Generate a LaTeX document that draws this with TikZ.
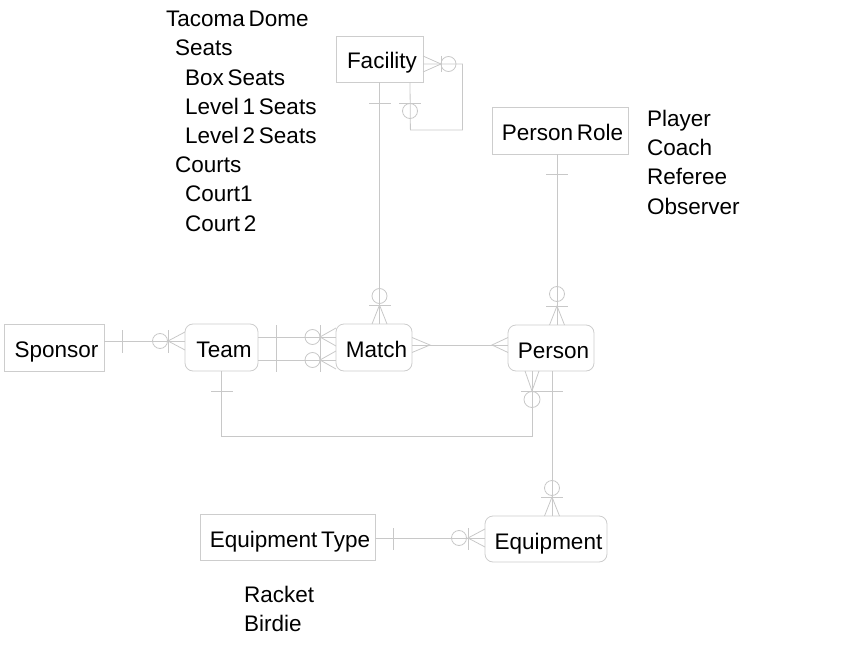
\documentclass[tikz,border=0pt]{standalone}
\usepackage{fontspec}
\setmainfont{Liberation Sans}[WordSpace=0.6]
\definecolor{lineg}{RGB}{200,200,200}
\definecolor{boxg}{RGB}{205,205,205}
\newcommand{\lbl}[1]{\hspace*{5pt}#1}
\tikzset{
  ent/.style={draw=boxg, line width=0.8pt, inner sep=0pt, text height=20pt, text depth=0pt,
    font=\fontsize{22.5}{27}\selectfont},
  rent/.style={ent, rounded corners=8pt},
  conn/.style={draw=lineg, line width=0.8pt},
  lst/.style={inner sep=0pt, anchor=base west, font=\fontsize{22.5}{27}\selectfont},
}
\begin{document}
\begin{tikzpicture}[x=1pt,y=-1pt]
\useasboundingbox (0,0) rectangle (857,650);
% entities
\node[ent, minimum width=87pt, minimum height=46pt] (fac) at (379.5,59) {\lbl{Facility}};
\node[ent, minimum width=136pt, minimum height=47pt] (role) at (560,130.5) {\lbl{Person Role}};
\node[ent, minimum width=100pt, minimum height=47pt] (spon) at (54,347.5) {\lbl{Sponsor}};
\node[rent, minimum width=73pt, minimum height=47pt] (team) at (221.5,347.5) {\lbl{Team}};
\node[rent, minimum width=76pt, minimum height=47pt] (match) at (374,347.5) {\lbl{Match}};
\node[rent, minimum width=86pt, minimum height=46pt] (person) at (551,348) {\lbl{Person}};
\node[ent, minimum width=175pt, minimum height=46pt] (eqt) at (287.5,537) {\lbl{Equipment Type}};
\node[rent, minimum width=122pt, minimum height=46pt] (equip) at (546,539) {\lbl{Equipment}};
% lists
\node[lst] (l1) at (166,26.7) {Tacoma Dome};
\node[lst] (l2) at (175,55.9) {Seats};
\node[lst] (l3) at (185,85.1) {Box Seats};
\node[lst] (l4) at (185,114.3) {Level 1 Seats};
\node[lst] (l5) at (185,143.5) {Level 2 Seats};
\node[lst] (l6) at (175,172.7) {Courts};
\node[lst] (l7) at (185,201.9) {Court1};
\node[lst] (l8) at (185,231.1) {Court 2};
\node[lst] (r1) at (647,126.5) {Player};
\node[lst] (r2) at (647,155.7) {Coach};
\node[lst] (r3) at (647,184.9) {Referee};
\node[lst] (r4) at (647,214.1) {Observer};
\node[lst] (e1) at (244,602.5) {Racket};
\node[lst] (e2) at (244,631.7) {Birdie};
% Facility -- Match
\draw[conn] (fac.south) -- (fac.south |- match.north);
\draw[conn] (369,103) -- (391,103);
\draw[conn] (379.5,296) circle (7.5);
\draw[conn] (369,305) -- (391,305);
\draw[conn] (372,324) -- (379.5,305) -- (387,324);
% Facility self loop
\coordinate (fl) at ([yshift=-5pt]fac.east);
\coordinate (fb) at ([xshift=30.5pt]fac.south);
\draw[conn] (fl) -- ++(39,0) |- ++(-52,66) -- (fb);
\draw[conn] (423,56) -- (441,64) -- (423,72);
\draw[conn] (441,56) -- (441,72);
\draw[conn] (448.5,64) circle (7.5);
\draw[conn] (399,103) -- (421,103);
\draw[conn] (410,111) circle (7.5);
% Person Role -- Person
\coordinate (rs) at ([xshift=-3pt]role.south);
\draw[conn] (rs) -- (rs |- person.north);
\draw[conn] (546,174) -- (568,174);
\draw[conn] (557,294) circle (7.5);
\draw[conn] (546,306) -- (568,306);
\draw[conn] (549.5,325) -- (557,306) -- (564.5,325);
% Sponsor -- Team
\coordinate (se) at ([yshift=6.5pt]spon.east);
\draw[conn] (se) -- (se -| team.west);
\draw[conn] (122,330) -- (122,353);
\draw[conn] (160,341) circle (7.5);
\draw[conn] (168,330) -- (168,353);
\draw[conn] (185,332) -- (168,341) -- (185,350);
% Team -- Match (two)
\coordinate (te1) at ([yshift=10.5pt]team.east);
\coordinate (te2) at ([yshift=-12.5pt]team.east);
\draw[conn] (te1) -- (te1 -| match.west);
\draw[conn] (te2) -- (te2 -| match.west);
\draw[conn] (276,325) -- (276,372);
\draw[conn] (312.5,337) circle (7.5);
\draw[conn] (312.5,360) circle (7.5);
\draw[conn] (320,325) -- (320,372);
\draw[conn] (336,328) -- (320,337) -- (336,346);
\draw[conn] (336,351) -- (320,360) -- (336,369);
% Match -- Person
\coordinate (me) at ([yshift=2.5pt]match.east);
\draw[conn] (me) -- (me -| person.west);
\draw[conn] (412,337.5) -- (430,345) -- (412,352.5);
\draw[conn] (508,337.5) -- (492,345) -- (508,352.5);
% Team -- Person (bottom)
\coordinate (ps) at ([xshift=-19pt]person.south);
\draw[conn] (team.south) -- ++(0,65) -| (ps);
\draw[conn] (211,391) -- (233,391);
\draw[conn] (525,371) -- (532,391) -- (539,371);
\draw[conn] (521,391) -- (543,391);
\draw[conn] (532,399.5) circle (8);
% Person -- Equipment
\coordinate (pe) at ([xshift=1pt]person.south);
\draw[conn] (pe) -- (pe |- equip.north);
\draw[conn] (541,391) -- (563,391);
\draw[conn] (552,488) circle (7.5);
\draw[conn] (541,497) -- (563,497);
\draw[conn] (544.5,516) -- (552,497) -- (559.5,516);
% Equipment Type -- Equipment
\coordinate (ee) at ([yshift=-1pt]eqt.east);
\draw[conn] (ee) -- (ee -| equip.west);
\draw[conn] (393,528) -- (393,550);
\draw[conn] (459,538) circle (7.5);
\draw[conn] (468,528) -- (468,550);
\draw[conn] (485,529) -- (468,538) -- (485,547);
\end{tikzpicture}
\end{document}
